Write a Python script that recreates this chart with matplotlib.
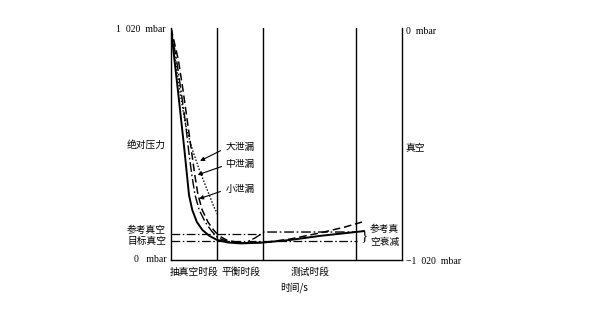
import matplotlib
matplotlib.use("Agg")
import matplotlib.pyplot as plt

plt.rcParams['font.family'] = ['Noto Sans CJK SC', 'DejaVu Sans']

# pressure curves during evacuation / balance / test, time in s, pressure in mbar
solid_t = [0, 1.5, 3.0, 4.4, 5.8, 6.9, 7.8, 9.2, 11.2, 13.6, 16.6, 20, 24.7, 30, 36, 40, 51.5, 64.5, 83.5]
solid_p = [1020, 880, 745, 615, 485, 375, 285, 220, 167, 132, 106, 88, 77, 73, 75, 77, 88, 106, 127]

small_t = [0, 2.4, 4.3, 6.1, 7.6, 9.0, 10.4, 12.2, 14.8, 17.5, 20.3, 24.7, 32, 36.4, 40.3, 80.5]
small_p = [1020, 879, 747, 616, 484, 374, 286, 220, 167, 128, 97, 81, 75, 97, 123, 123]

mid_t = [0, 3.2, 5.2, 7.0, 8.8, 10.3, 11.7, 13.5, 16.0, 18.4, 20.8, 24.0, 30, 40.3, 51.5, 64.5, 75.3, 82.7]
mid_p = [1020, 879, 747, 616, 484, 374, 286, 220, 167, 132, 106, 88, 75, 77, 92, 119, 145, 167]

big_t = [0, 1.9, 3.8, 5.5, 6.8, 9.3, 12.3, 15.7, 18.6, 20.3]
big_p = [1020, 879, 747, 638, 572, 484, 396, 308, 233, 198]

ref_vacuum = 114
target_vacuum = 84
phase_ends = [20, 40, 80]
phase_labels = ["抽真空时段", "平衡时段", "测试时段"]
leak_labels = ["大泄漏", "中泄漏", "小泄漏"]

fig = plt.figure(figsize=(6.11, 3.35), dpi=100)
ax = fig.add_axes([171/611, 1-260/335, 231/611, 232/335])
ax.set_xlim(0, 100)
ax.set_ylim(0, 1020)
ax.spines['top'].set_visible(False)
for s in ['left', 'bottom', 'right']:
    ax.spines[s].set_linewidth(1.0)
ax.set_xticks([])
ax.set_yticks([])

for t in phase_ends:
    ax.axvline(t, color='black', lw=1.0)

dashdot = (0, (7, 2, 1.2, 2))
ax.plot([0, 40], [ref_vacuum, ref_vacuum], color='black', lw=0.9, ls=dashdot)
ax.plot([0, 80.5], [target_vacuum, target_vacuum], color='black', lw=0.9, ls=dashdot)

ax.plot(solid_t, solid_p, color='black', lw=1.4, solid_capstyle='round')
ax.plot(small_t, small_p, color='black', lw=1.0, ls=dashdot)
ax.plot(mid_t, mid_p, color='black', lw=1.1, ls=(0, (5, 2.5)))
ax.plot(big_t, big_p, color='black', lw=1.0, ls=(0, (1, 1.3)))

# arrows from the leak labels to their curves
arrow = dict(arrowstyle='-|>', color='black', lw=0.8, mutation_scale=6)
ax.annotate("", xy=(11.5, 430), xytext=(22.5, 486), arrowprops=arrow)
ax.annotate("", xy=(10.4, 370), xytext=(23.0, 415), arrowprops=arrow)
ax.annotate("", xy=(11.0, 265), xytext=(22.5, 305), arrowprops=arrow)
fs = 7
ax.text(23.5, 495, leak_labels[0], fontsize=fs, va='center', ha='left')
ax.text(23.5, 422, leak_labels[1], fontsize=fs, va='center', ha='left')
ax.text(23.5, 312, leak_labels[2], fontsize=fs, va='center', ha='left')

def fx(px):
    return px / 611

def fy(py):
    return 1 - py / 335

serif = ['Liberation Serif', 'DejaVu Serif']
fig.text(fx(166), fy(30), "1  020  mbar", fontsize=fs, family=serif, ha='right', va='center')
fig.text(fx(166), fy(145), "绝对压力", fontsize=fs, ha='right', va='center')
fig.text(fx(166), fy(230), "参考真空", fontsize=fs, ha='right', va='center')
fig.text(fx(166), fy(241), "目标真空", fontsize=fs, ha='right', va='center')
fig.text(fx(166), fy(259), "0   mbar", fontsize=fs, family=serif, ha='right', va='center')

fig.text(fx(406), fy(32), "0  mbar", fontsize=fs, family=serif, ha='left', va='center')
fig.text(fx(406), fy(148), "真空", fontsize=fs, ha='left', va='center')
fig.text(fx(406), fy(261), "\u22121  020  mbar", fontsize=fs, family=serif, ha='left', va='center')

fig.text(fx(364), fy(236), "}", fontsize=11, family=serif, ha='center', va='center')
fig.text(fx(370), fy(229), "参考真", fontsize=fs, ha='left', va='center')
fig.text(fx(370), fy(242), "空衰减", fontsize=fs, ha='left', va='center')

fig.text(fx(194), fy(272), phase_labels[0], fontsize=fs, ha='center', va='center')
fig.text(fx(241), fy(272), phase_labels[1], fontsize=fs, ha='center', va='center')
fig.text(fx(310), fy(272), phase_labels[2], fontsize=fs, ha='center', va='center')
fig.text(fx(294), fy(288), "时间/s", fontsize=fs, ha='center', va='center')

fig.savefig("out.png", dpi=100)
